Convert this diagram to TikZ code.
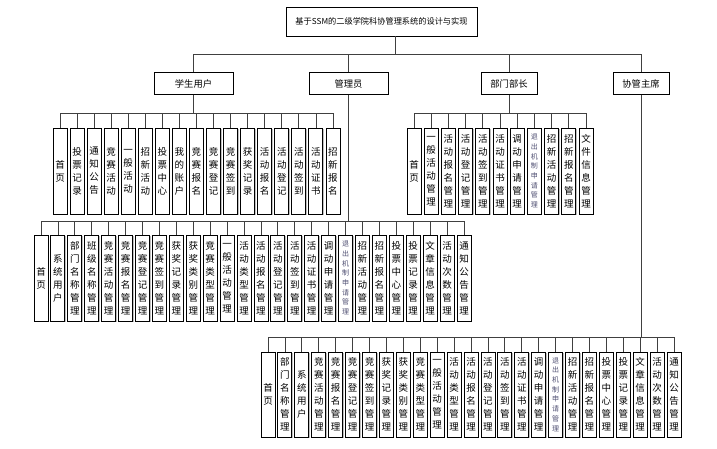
\documentclass[tikz,border=0pt]{standalone}
\usepackage{fontspec}
\newfontfamily\cjk{Noto Sans CJK SC}
\usetikzlibrary{shadows}
\definecolor{smallink}{RGB}{80,80,115}
\def\vt#1{\vbox{\expandafter\vtaux#1\relax}}
\def\vtaux#1{\ifx\relax#1\else\hbox{#1}\expandafter\vtaux\fi}
\def\vtS#1{{\fontsize{7}{9.7}\selectfont\color{smallink}\vt{#1}}}
\def\leaftext#1#2{\if s#2\vtS{#1}\else\vt{#1}\fi}
\begin{document}
\begin{tikzpicture}[x=1pt,y=-1pt,
  every node/.style={font=\cjk},
  box/.style={draw=black,line width=0.9pt,fill=white,inner sep=0pt,
    drop shadow={shadow xshift=1pt,shadow yshift=-1pt,fill=black!25,opacity=1}},
  topbox/.style={box,font=\cjk\fontsize{8.2}{10}\selectfont},
  midbox/.style={box,minimum height=21.5pt,font=\cjk\fontsize{9.3}{11}\selectfont},
  leaf/.style={box,minimum width=14pt,minimum height=86pt,font=\cjk\fontsize{9.5}{13}\selectfont},
  conn/.style={draw=black!75,line width=0.8pt}]
\useasboundingbox (0,0) rectangle (717,449);

% root
\node[topbox,minimum width=191pt,minimum height=29pt] (root) at (381.5,21.5) {基于SSM的二级学院科协管理系统的设计与实现};

% level 1
\node[midbox,minimum width=79pt] (stu) at (193.5,83.5) {学生用户};
\node[midbox,minimum width=79pt] (adm) at (348.5,83.5) {管理员};
\node[midbox,minimum width=56pt] (dep) at (509,83.5) {部门部长};
\node[midbox,minimum width=56pt] (chr) at (641,83.5) {协管主席};

\coordinate (rb) at (395,54);
\draw[conn] (root.south -| rb) -- (rb);
\foreach \n in {stu,adm,dep,chr} \draw[conn] (\n.north) |- (rb);

% student leaves
\coordinate (sb) at (193.5,113);
\draw[conn] (stu.south) -- (sb);
\foreach \lbl/\k [count=\i] in {首页/n,投票记录/n,通知公告/n,竞赛活动/n,一般活动/n,招新活动/n,投票中心/n,我的账户/n,竞赛报名/n,竞赛登记/n,竞赛签到/n,获奖记录/n,活动报名/n,活动登记/n,活动签到/n,活动证书/n,招新报名/n}{
  \draw[conn] ({60+(\i-1)*17.06},128) |- (sb);
  \node[leaf] (s\i) at ({60+(\i-1)*17.06},171) {\leaftext{\lbl}{\k}};
}

% admin leaves
\coordinate (ab) at (348.5,221);
\draw[conn] (adm.south) -- (ab);
\foreach \lbl/\k [count=\i] in {首页/n,系统用户/n,部门名称管理/n,班级名称管理/n,竞赛活动管理/n,竞赛报名管理/n,竞赛登记管理/n,竞赛签到管理/n,获奖记录管理/n,获奖类别管理/n,竞赛类型管理/n,一般活动管理/n,活动类型管理/n,活动报名管理/n,活动登记管理/n,活动签到管理/n,活动证书管理/n,调动申请管理/n,退出机制申请管理/s,招新活动管理/n,招新报名管理/n,投票中心管理/n,投票记录管理/n,文章信息管理/n,活动次数管理/n,通知公告管理/n}{
  \draw[conn] ({41+(\i-1)*16.92},235) |- (ab);
  \node[leaf] (a\i) at ({41+(\i-1)*16.92},278) {\leaftext{\lbl}{\k}};
}

% department leaves
\coordinate (db) at (509,113);
\draw[conn] (dep.south) -- (db);
\foreach \lbl/\k [count=\i] in {首页/n,一般活动管理/n,活动报名管理/n,活动登记管理/n,活动签到管理/n,活动证书管理/n,调动申请管理/n,退出机制申请管理/s,招新活动管理/n,招新报名管理/n,文件信息管理/n}{
  \draw[conn] ({414+(\i-1)*17.2},128) |- (db);
  \node[leaf] (d\i) at ({414+(\i-1)*17.2},171) {\leaftext{\lbl}{\k}};
}

% chairman leaves
\coordinate (cb) at (641,337);
\draw[conn] (chr.south) -- (cb);
\foreach \lbl/\k [count=\i] in {首页/n,部门名称管理/n,系统用户/n,竞赛活动管理/n,竞赛报名管理/n,竞赛登记管理/n,竞赛签到管理/n,获奖记录管理/n,获奖类别管理/n,竞赛类型管理/n,一般活动管理/n,活动类型管理/n,活动报名管理/n,活动登记管理/n,活动签到管理/n,活动证书管理/n,调动申请管理/n,退出机制申请管理/s,招新活动管理/n,招新报名管理/n,投票中心管理/n,投票记录管理/n,文章信息管理/n,活动次数管理/n,通知公告管理/n}{
  \draw[conn] ({268+(\i-1)*16.92},352) |- (cb);
  \node[leaf,minimum height=85pt] (c\i) at ({268+(\i-1)*16.92},394.5) {\leaftext{\lbl}{\k}};
}
\end{tikzpicture}
\end{document}
